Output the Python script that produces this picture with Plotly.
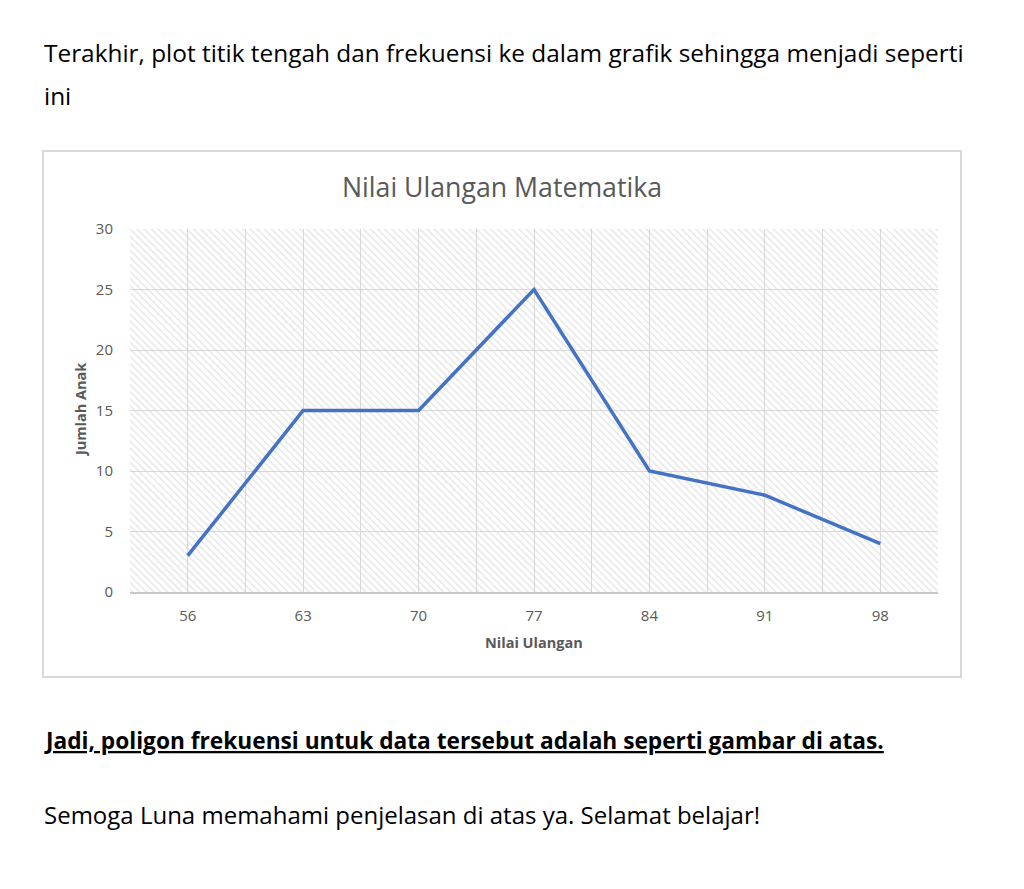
import plotly.graph_objects as go

# ---- data ----
categories = [56, 63, 70, 77, 84, 91, 98]
frequencies = [3, 15, 15, 25, 10, 8, 4]
y_ticks = [0, 5, 10, 15, 20, 25, 30]

chart_title = "Nilai Ulangan Matematika"
x_title = "Nilai Ulangan"
y_title = "Jumlah Anak"
text_top_1 = "Terakhir, plot titik tengah dan frekuensi ke dalam grafik sehingga menjadi seperti"
text_top_2 = "ini"
text_conclusion = "Jadi, poligon frekuensi untuk data tersebut adalah seperti gambar di atas."
text_closing = "Semoga Luna memahami penjelasan di atas ya. Selamat belajar!"

W, H = 1024, 889
PL, PR, PT, PB = 130, 938, 229, 592  # plot area in pixels

FONT = "'Open Sans', sans-serif"
GRAY = "#595959"
GRID = "#d9d9d9"


def px_x(px):
    return (px - PL) / (PR - PL)


def px_y(py):
    return (PB - py) / (PB - PT)


step = categories[1] - categories[0]
x_lo = categories[0] - step / 2
x_hi = categories[-1] + step / 2
y_lo, y_hi = y_ticks[0], y_ticks[-1]

fig = go.Figure()

# hatched plot-area background
fig.add_trace(go.Bar(
    x=[(x_lo + x_hi) / 2], y=[y_hi - y_lo], base=[y_lo], width=[x_hi - x_lo],
    marker=dict(color="rgba(0,0,0,0)", line=dict(width=0),
                pattern=dict(shape="\\", fgcolor="#cfcfcf", bgcolor="rgba(0,0,0,0)",
                             size=5, solidity=0.3)),
    hoverinfo="skip", showlegend=False,
))

fig.add_trace(go.Scatter(
    x=categories, y=frequencies, mode="lines",
    line=dict(color="#4472C4", width=3.5),
    showlegend=False,
))

fig.update_xaxes(
    range=[x_lo, x_hi], tickvals=categories, ticktext=[str(c) for c in categories],
    showgrid=True, gridcolor=GRID, gridwidth=1,
    minor=dict(tick0=x_lo, dtick=step / 2, showgrid=True, gridcolor=GRID, gridwidth=1),
    showline=True, linecolor="#c8c8c8", linewidth=1.5,
    ticks="", ticklabelstandoff=9,
    tickfont=dict(family=FONT, size=15, color=GRAY),
    zeroline=False, fixedrange=True,
)
fig.update_yaxes(
    range=[y_lo, y_hi], tickvals=y_ticks,
    showgrid=True, gridcolor=GRID, gridwidth=1,
    showline=False, zeroline=False, ticks="", ticklabelstandoff=16,
    tickfont=dict(family=FONT, size=15, color=GRAY), fixedrange=True,
)

BODY = dict(family=FONT, size=24.4, color="black")
annotations = [
    dict(text=chart_title, x=px_x(502), y=px_y(186), font=dict(family=FONT, size=26.7, color=GRAY)),
    dict(text="<b>" + x_title + "</b>", x=px_x(534), y=px_y(642), font=dict(family=FONT, size=14.5, color=GRAY)),
    dict(text="<b>" + y_title + "</b>", x=px_x(80), y=px_y(410), textangle=-90,
         font=dict(family=FONT, size=14.5, color=GRAY)),
    dict(text=text_top_1, x=px_x(42), y=px_y(52), xanchor="left", font=BODY),
    dict(text=text_top_2, x=px_x(42), y=px_y(95), xanchor="left", font=BODY),
    dict(text="<u><b>" + text_conclusion + "</b></u>", x=px_x(42), y=px_y(740), xanchor="left",
         font=dict(family=FONT, size=22.7, color="black")),
    dict(text=text_closing, x=px_x(42), y=px_y(814), xanchor="left",
         font=dict(family=FONT, size=24, color="black")),
]
for a in annotations:
    a.setdefault("xanchor", "center")
    a.setdefault("yanchor", "middle")
    a.update(xref="paper", yref="paper", showarrow=False)

fig.update_layout(
    width=W, height=H,
    margin=dict(l=PL, r=W - PR, t=PT, b=H - PB, pad=0),
    paper_bgcolor="white", plot_bgcolor="white",
    annotations=annotations,
    shapes=[dict(type="rect", xref="paper", yref="paper",
                 x0=px_x(43), x1=px_x(961), y0=px_y(677), y1=px_y(151),
                 line=dict(color="#d9d9d9", width=2), layer="below")],
    bargap=0, showlegend=False,
)

fig.write_html("out.html", config={"displayModeBar": False},
               post_script="document.body.style.margin='0';document.body.style.overflow='hidden';")
